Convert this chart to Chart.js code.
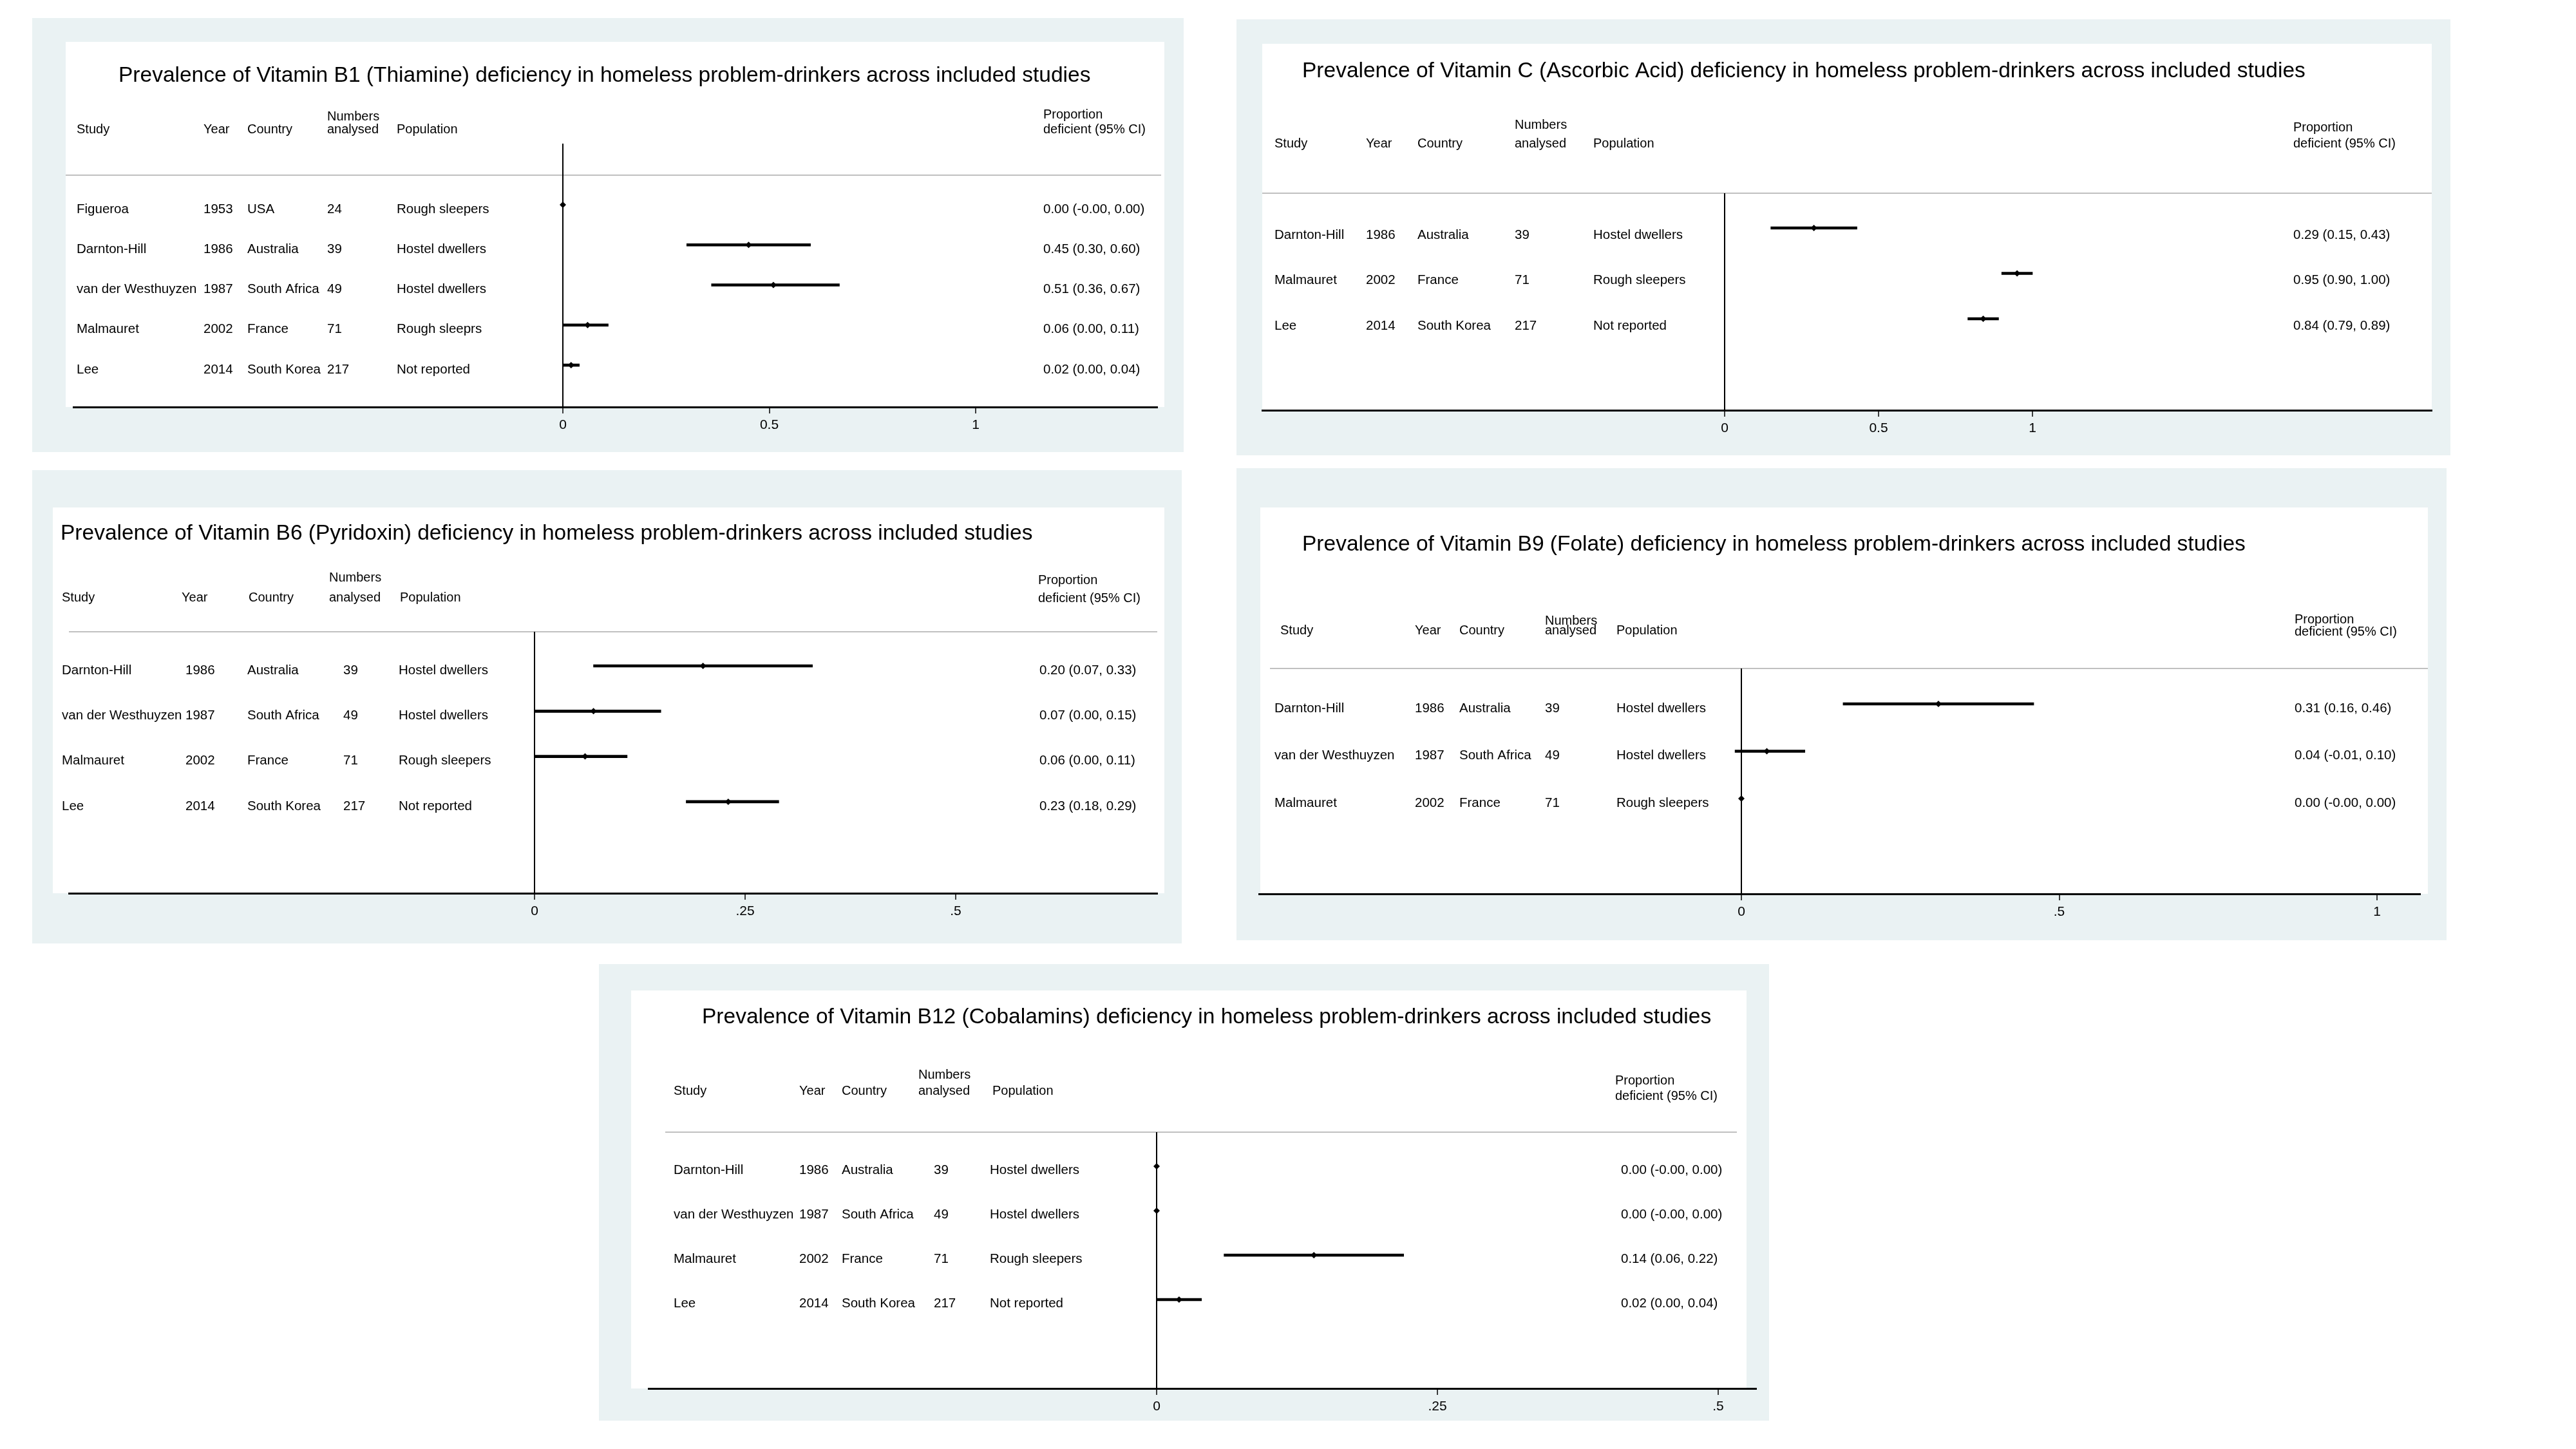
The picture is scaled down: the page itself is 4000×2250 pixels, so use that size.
<!DOCTYPE html>
<html>
<head>
<meta charset="utf-8">
<title>Vitamin deficiency forest plots</title>
<script src="https://cdn.jsdelivr.net/npm/chart.js@4.4.1/dist/chart.umd.min.js"></script>
<style>
  body { margin: 0; background: #fff; width: 4000px; height: 2250px; position: relative; overflow: hidden; }
  canvas { position: absolute; }
</style>
</head>
<body>
<canvas id="b1"></canvas>
<canvas id="vc"></canvas>
<canvas id="b6"></canvas>
<canvas id="b9"></canvas>
<canvas id="b12"></canvas>
<script>
// ---- data ----
// Vitamin B1
let b1Study = ['Figueroa', 'Darnton-Hill', 'van der Westhuyzen', 'Malmauret', 'Lee'];
let b1Year = [1953, 1986, 1987, 2002, 2014];
let b1Country = ['USA', 'Australia', 'South Africa', 'France', 'South Korea'];
let b1N = [24, 39, 49, 71, 217];
let b1Pop = ['Rough sleepers', 'Hostel dwellers', 'Hostel dwellers', 'Rough sleeprs', 'Not reported'];
let b1Est = [0.00, 0.45, 0.51, 0.06, 0.02];
let b1Lo = [-0.001, 0.30, 0.36, 0.00, 0.00];
let b1Hi = [0.00, 0.60, 0.67, 0.11, 0.04];
let b1Ticks = [0, 0.5, 1];
let b1TickLabels = ['0', '0.5', '1'];

// Vitamin C
let vcStudy = ['Darnton-Hill', 'Malmauret', 'Lee'];
let vcYear = [1986, 2002, 2014];
let vcCountry = ['Australia', 'France', 'South Korea'];
let vcN = [39, 71, 217];
let vcPop = ['Hostel dwellers', 'Rough sleepers', 'Not reported'];
let vcEst = [0.29, 0.95, 0.84];
let vcLo = [0.15, 0.90, 0.79];
let vcHi = [0.43, 1.00, 0.89];
let vcTicks = [0, 0.5, 1];
let vcTickLabels = ['0', '0.5', '1'];

// Vitamin B6
let b6Study = ['Darnton-Hill', 'van der Westhuyzen', 'Malmauret', 'Lee'];
let b6Year = [1986, 1987, 2002, 2014];
let b6Country = ['Australia', 'South Africa', 'France', 'South Korea'];
let b6N = [39, 49, 71, 217];
let b6Pop = ['Hostel dwellers', 'Hostel dwellers', 'Rough sleepers', 'Not reported'];
let b6Est = [0.20, 0.07, 0.06, 0.23];
let b6Lo = [0.07, 0.00, 0.00, 0.18];
let b6Hi = [0.33, 0.15, 0.11, 0.29];
let b6Ticks = [0, 0.25, 0.5];
let b6TickLabels = ['0', '.25', '.5'];

// Vitamin B9
let b9Study = ['Darnton-Hill', 'van der Westhuyzen', 'Malmauret'];
let b9Year = [1986, 1987, 2002];
let b9Country = ['Australia', 'South Africa', 'France'];
let b9N = [39, 49, 71];
let b9Pop = ['Hostel dwellers', 'Hostel dwellers', 'Rough sleepers'];
let b9Est = [0.31, 0.04, 0.00];
let b9Lo = [0.16, -0.01, -0.001];
let b9Hi = [0.46, 0.10, 0.00];
let b9Ticks = [0, 0.5, 1];
let b9TickLabels = ['0', '.5', '1'];

// Vitamin B12
let b12Study = ['Darnton-Hill', 'van der Westhuyzen', 'Malmauret', 'Lee'];
let b12Year = [1986, 1987, 2002, 2014];
let b12Country = ['Australia', 'South Africa', 'France', 'South Korea'];
let b12N = [39, 49, 71, 217];
let b12Pop = ['Hostel dwellers', 'Hostel dwellers', 'Rough sleepers', 'Not reported'];
let b12Est = [0.00, 0.00, 0.14, 0.02];
let b12Lo = [-0.001, -0.001, 0.06, 0.00];
let b12Hi = [0.00, 0.00, 0.22, 0.04];
let b12Ticks = [0, 0.25, 0.5];
let b12TickLabels = ['0', '.25', '.5'];

const FONT = '"Liberation Sans", Arial, Helvetica, sans-serif';
Chart.defaults.font.family = FONT;
const BLUE = '#eaf2f3';

// ---- layout (page pixels) ----
// headY: [Numbers, Proportion, other headers, deficient]
let layouts = {
    b1: { box: [50, 28, 1838, 702], white: [102, 65, 1808, 632], title: [184, 118],
          headY: [181, 178, 201, 201], headX: [119, 316, 384, 508, 616, 1620], rowX: [119, 316, 384, 508, 616, 1620],
          gray: [272, 102, 1803], zeroTop: 223, axisY: 632, axisX: [114, 1797], zeroPx: 874, unitPx: 641,
          rowY0: 318, rowGap: 62.25, textDy: 7 },
    vc: { box: [1920, 30, 3805, 707], white: [1960, 68, 3776, 637], title: [2022, 111],
          headY: [194, 198, 223, 223], headX: [1979, 2121, 2201, 2352, 2474, 3561], rowX: [1979, 2121, 2201, 2352, 2474, 3561],
          gray: [300, 1960, 3776], zeroTop: 300, axisY: 637, axisX: [1960, 3776], zeroPx: 2678, unitPx: 478,
          rowY0: 354, rowGap: 70.5, textDy: 11 },
    b6: { box: [50, 730, 1835, 1465], white: [82, 788, 1808, 1387], title: [94, 829],
          headY: [897, 901, 928, 929], headX: [96, 282, 386, 511, 621, 1612], rowX: [96, 288, 384, 533, 619, 1614],
          gray: [981, 107, 1797], zeroTop: 981, axisY: 1387, axisX: [107, 1797], zeroPx: 830, unitPx: 1308,
          rowY0: 1034, rowGap: 70.3, textDy: 7 },
    b9: { box: [1920, 727, 3799, 1460], white: [1957, 788, 3770, 1388], title: [2022, 846],
          headY: [964, 962, 979, 981], headX: [1988, 2197, 2266, 2399, 2510, 3563], rowX: [1979, 2197, 2266, 2399, 2510, 3563],
          gray: [1038, 1972, 3770], zeroTop: 1038, axisY: 1388, axisX: [1955, 3758], zeroPx: 2704, unitPx: 987,
          rowY0: 1093, rowGap: 73.5, textDy: 7 },
    b12: { box: [930, 1497, 2747, 2206], white: [980, 1538, 2712, 2156], title: [1090, 1580],
          headY: [1669, 1678, 1694, 1702], headX: [1046, 1241, 1307, 1426, 1541, 2508], rowX: [1046, 1241, 1307, 1450, 1537, 2517],
          gray: [1758, 1033, 2697], zeroTop: 1758, axisY: 2156, axisX: [1007, 2727], zeroPx: 1796, unitPx: 1744,
          rowY0: 1811, rowGap: 69, textDy: 6 }
};

function ciText(e, l, h) {
    return e.toFixed(2) + ' (' + l.toFixed(2) + ', ' + h.toFixed(2) + ')';
}

function makePanel(id, title, d) {
    let L = layouts[id];
    let cv = document.getElementById(id);
    let ox = L.box[0], oy = L.box[1];
    let w = L.box[2] - ox, h = L.box[3] - oy;
    cv.width = w; cv.height = h;
    cv.style.left = ox + 'px'; cv.style.top = oy + 'px';
    cv.style.width = w + 'px'; cv.style.height = h + 'px';

    const AXIS_H = 50;
    let yTop = (L.zeroTop - L.rowY0) / L.rowGap;
    let yBot = (L.axisY - L.rowY0) / L.rowGap;
    let xMin = (L.axisX[0] - L.zeroPx) / L.unitPx;
    let xMax = (L.axisX[1] - L.zeroPx) / L.unitPx;

    let tablePlugin = {
        id: 'table',
        beforeDraw(chart) {
            let c = chart.ctx;
            c.save();
            c.fillStyle = BLUE;
            c.fillRect(0, 0, w, h);
            c.fillStyle = '#fff';
            c.fillRect(L.white[0] - ox, L.white[1] - oy, L.white[2] - L.white[0], L.white[3] - L.white[1]);
            // header separator
            c.strokeStyle = '#c0c0c0';
            c.lineWidth = 2;
            c.beginPath();
            c.moveTo(L.gray[1] - ox, L.gray[0] - oy);
            c.lineTo(L.gray[2] - ox, L.gray[0] - oy);
            c.stroke();
            c.fillStyle = '#000';
            c.textAlign = 'left';
            c.textBaseline = 'middle';
            c.font = '33.5px ' + FONT;
            c.fillText(title, L.title[0] - ox, L.title[1] - oy);
            c.font = '20px ' + FONT;
            let hx = L.headX;
            c.fillText('Study', hx[0] - ox, L.headY[2] - oy);
            c.fillText('Year', hx[1] - ox, L.headY[2] - oy);
            c.fillText('Country', hx[2] - ox, L.headY[2] - oy);
            c.fillText('Numbers', hx[3] - ox, L.headY[0] - oy);
            c.fillText('analysed', hx[3] - ox, L.headY[2] - oy);
            c.fillText('Population', hx[4] - ox, L.headY[2] - oy);
            c.fillText('Proportion', hx[5] - ox, L.headY[1] - oy);
            c.fillText('deficient (95% CI)', hx[5] - ox, L.headY[3] - oy);
            c.restore();
        },
        afterDraw(chart) {
            let c = chart.ctx;
            let ys = chart.scales.y;
            c.save();
            c.fillStyle = '#000';
            c.textAlign = 'left';
            c.textBaseline = 'middle';
            c.font = '20.5px ' + FONT;
            let rx = L.rowX;
            d.study.forEach((s, i) => {
                let y = ys.getPixelForValue(i) + L.textDy;
                c.fillText(s, rx[0] - ox, y);
                c.fillText(String(d.year[i]), rx[1] - ox, y);
                c.fillText(d.country[i], rx[2] - ox, y);
                c.fillText(String(d.n[i]), rx[3] - ox, y);
                c.fillText(d.pop[i], rx[4] - ox, y);
                c.fillText(ciText(d.est[i], d.lo[i], d.hi[i]), rx[5] - ox, y);
            });
            c.restore();
        }
    };

    new Chart(cv, {
        type: 'bar',
        data: {
            datasets: [
                {
                    type: 'scatter',
                    data: d.est.map((v, i) => ({ x: v, y: i })),
                    pointStyle: 'rectRot',
                    pointRadius: 5,
                    backgroundColor: '#000',
                    borderColor: '#000',
                    borderWidth: 0,
                    order: 0
                },
                {
                    type: 'bar',
                    data: d.lo.map((v, i) => ({ x: [v, d.hi[i]], y: i })),
                    backgroundColor: '#000',
                    borderWidth: 0,
                    barThickness: 4,
                    order: 1
                }
            ]
        },
        options: {
            indexAxis: 'y',
            responsive: false,
            animation: false,
            devicePixelRatio: 1,
            layout: {
                padding: {
                    left: L.axisX[0] - ox,
                    right: L.box[2] - L.axisX[1],
                    top: L.zeroTop - oy,
                    bottom: L.box[3] - L.axisY - AXIS_H
                }
            },
            plugins: {
                legend: { display: false },
                tooltip: { enabled: false }
            },
            scales: {
                x: {
                    type: 'linear',
                    min: xMin,
                    max: xMax,
                    offset: false,
                    afterBuildTicks: s => { s.ticks = d.ticks.map(v => ({ value: v })); },
                    afterFit: s => { s.height = AXIS_H; },
                    ticks: {
                        callback: (v, i) => d.tickLabels[i],
                        font: { family: FONT, size: 21 },
                        color: '#000',
                        padding: 6,
                        maxRotation: 0,
                        autoSkip: false
                    },
                    grid: {
                        color: ctx => (ctx.tick && ctx.tick.value === 0) ? '#000' : 'rgba(0,0,0,0)',
                        lineWidth: 2,
                        offset: false,
                        drawTicks: true,
                        tickLength: 10,
                        tickColor: '#000',
                        tickWidth: 1.5
                    },
                    border: { display: true, color: '#000', width: 3 }
                },
                y: {
                    type: 'linear',
                    display: false,
                    reverse: true,
                    offset: false,
                    grid: { offset: false },
                    min: yTop,
                    max: yBot
                }
            }
        },
        plugins: [tablePlugin]
    });
}

makePanel('b1', 'Prevalence of Vitamin B1 (Thiamine) deficiency in homeless problem-drinkers across included studies',
    { study: b1Study, year: b1Year, country: b1Country, n: b1N, pop: b1Pop, est: b1Est, lo: b1Lo, hi: b1Hi, ticks: b1Ticks, tickLabels: b1TickLabels });
makePanel('vc', 'Prevalence of Vitamin C (Ascorbic Acid) deficiency in homeless problem-drinkers across included studies',
    { study: vcStudy, year: vcYear, country: vcCountry, n: vcN, pop: vcPop, est: vcEst, lo: vcLo, hi: vcHi, ticks: vcTicks, tickLabels: vcTickLabels });
makePanel('b6', 'Prevalence of Vitamin B6 (Pyridoxin) deficiency in homeless problem-drinkers across included studies',
    { study: b6Study, year: b6Year, country: b6Country, n: b6N, pop: b6Pop, est: b6Est, lo: b6Lo, hi: b6Hi, ticks: b6Ticks, tickLabels: b6TickLabels });
makePanel('b9', 'Prevalence of Vitamin B9 (Folate) deficiency in homeless problem-drinkers across included studies',
    { study: b9Study, year: b9Year, country: b9Country, n: b9N, pop: b9Pop, est: b9Est, lo: b9Lo, hi: b9Hi, ticks: b9Ticks, tickLabels: b9TickLabels });
makePanel('b12', 'Prevalence of Vitamin B12 (Cobalamins) deficiency in homeless problem-drinkers across included studies',
    { study: b12Study, year: b12Year, country: b12Country, n: b12N, pop: b12Pop, est: b12Est, lo: b12Lo, hi: b12Hi, ticks: b12Ticks, tickLabels: b12TickLabels });
</script>
</body>
</html>
